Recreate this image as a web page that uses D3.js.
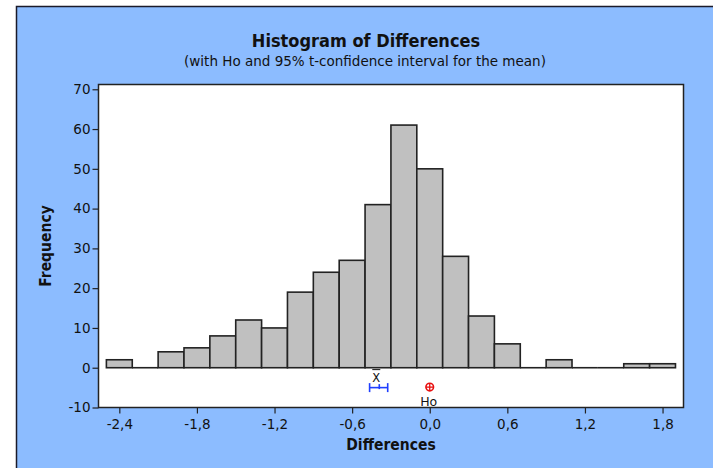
<!DOCTYPE html>
<html>
<head>
<meta charset="UTF-8">
<script src="https://d3js.org/d3.v7.min.js"></script>
<style>
  body { margin: 0; background: #fff; }
  text { font-family: "DejaVu Sans", sans-serif; fill: #111; }
  .cond { font-family: "DejaVu Sans Condensed", "DejaVu Sans", sans-serif; }
</style>
</head>
<body>
<div id="chart"></div>
<script>
var width = 713, height = 468;

// histogram bins (left edges) and counts
var binStart = -2.5, binWidth = 0.2;
var counts = [2, 0, 4, 5, 8, 12, 10, 19, 24, 27, 41, 61, 50, 28, 13, 6, 0, 2, 0, 0, 1, 1];
var xTicks = [-2.4, -1.8, -1.2, -0.6, 0.0, 0.6, 1.2, 1.8];
var yTicks = [-10, 0, 10, 20, 30, 40, 50, 60, 70];
// mean and 95% t-CI, hypothesised value
var mean = -0.39, ciLow = -0.465, ciHigh = -0.325, ho = 0.0, markY = -5;

var bins = counts.map(function(c, i) {
    return { x0: binStart + i * binWidth, x1: binStart + (i + 1) * binWidth, n: c };
});

var plot = { left: 98.5, right: 683.5, top: 84.5, bottom: 407.5 };

var svg = d3.select("#chart").append("svg")
    .attr("width", width).attr("height", height);

// blue frame
svg.append("rect").attr("x", 16.5).attr("y", 6.5)
    .attr("width", width).attr("height", height)
    .attr("fill", "#8cbcff").attr("stroke", "#1a1a2a").attr("stroke-width", 1.5);

var xscale = d3.scaleLinear().domain([-2.561, 1.962]).range([plot.left, plot.right]);
var yscale = d3.scaleLinear().domain([-10, 71.2]).range([plot.bottom, plot.top]);

svg.append("rect")
    .attr("x", plot.left).attr("y", plot.top)
    .attr("width", plot.right - plot.left).attr("height", plot.bottom - plot.top)
    .attr("fill", "#fff").attr("stroke", "#222").attr("stroke-width", 1.5);

// bars (empty bins show as a line at zero)
var gb = svg.append("g");
gb.selectAll("rect").data(bins.filter(d => d.n > 0)).enter().append("rect")
    .attr("x", d => xscale(d.x0))
    .attr("y", d => yscale(d.n))
    .attr("width", d => xscale(d.x1) - xscale(d.x0))
    .attr("height", d => yscale(0) - yscale(d.n))
    .attr("fill", "#c0c0c0").attr("stroke", "#222").attr("stroke-width", 1.6);
gb.selectAll("line").data(bins.filter(d => d.n === 0)).enter().append("line")
    .attr("x1", d => xscale(d.x0)).attr("x2", d => xscale(d.x1))
    .attr("y1", yscale(0)).attr("y2", yscale(0))
    .attr("stroke", "#222").attr("stroke-width", 1.6);

// axes
var xaxis = d3.axisBottom(xscale).tickValues(xTicks).tickSize(6).tickSizeOuter(0)
    .tickFormat(d => d3.format(".1f")(d).replace(".", ",").replace("−", "-"));
var yaxis = d3.axisLeft(yscale).tickValues(yTicks).tickSize(6).tickSizeOuter(0)
    .tickFormat(d => String(d));

var gx = svg.append("g").attr("transform", "translate(0," + plot.bottom + ")").call(xaxis);
var gy = svg.append("g").attr("transform", "translate(" + plot.left + ",0)").call(yaxis);
[gx, gy].forEach(function(g) {
    g.select(".domain").remove();
    g.selectAll("line").attr("stroke", "#222").attr("stroke-width", 1.2);
    g.selectAll("text").style("font-size", "13.5px").attr("fill", "#111")
        .style("font-family", "'DejaVu Sans', sans-serif");
});
gx.selectAll("text").attr("dy", "0.95em");
gy.selectAll("text").attr("x", -8);

// CI for the mean
var gci = svg.append("g").attr("stroke", "#1f3fff").attr("stroke-width", 1.6);
gci.append("line").attr("x1", xscale(ciLow)).attr("x2", xscale(ciHigh))
    .attr("y1", yscale(markY)).attr("y2", yscale(markY));
[ciLow, ciHigh].forEach(function(v) {
    gci.append("line").attr("x1", xscale(v)).attr("x2", xscale(v))
        .attr("y1", yscale(markY) - 4.5).attr("y2", yscale(markY) + 4.5);
});
gci.append("line").attr("x1", xscale(mean)).attr("x2", xscale(mean))
    .attr("y1", yscale(markY) - 3.5).attr("y2", yscale(markY) + 1.5);

svg.append("text").attr("x", xscale(mean) - 3).attr("y", yscale(markY) - 6)
    .attr("text-anchor", "middle").style("font-size", "11.5px").text("X");
svg.append("line").attr("x1", xscale(mean) - 7).attr("x2", xscale(mean) + 1)
    .attr("y1", yscale(markY) - 18).attr("y2", yscale(markY) - 18)
    .attr("stroke", "#111").attr("stroke-width", 1);

// Ho marker
var hx = xscale(ho), hy = yscale(markY) - 0.5;
svg.append("circle").attr("cx", hx).attr("cy", hy).attr("r", 3.8)
    .attr("fill", "none").attr("stroke", "#e81010").attr("stroke-width", 1.6);
svg.append("line").attr("x1", hx - 4).attr("x2", hx + 4).attr("y1", hy).attr("y2", hy)
    .attr("stroke", "#e81010").attr("stroke-width", 1.3);
svg.append("line").attr("x1", hx).attr("x2", hx).attr("y1", hy - 4).attr("y2", hy + 4)
    .attr("stroke", "#e81010").attr("stroke-width", 1.3);
svg.append("text").attr("x", hx - 1).attr("y", yscale(markY) + 18)
    .attr("text-anchor", "middle").style("font-size", "12.5px").text("Ho");

// titles
svg.append("text").attr("class", "cond").attr("x", 366).attr("y", 47).attr("text-anchor", "middle")
    .style("font-size", "18px").style("font-weight", "bold").text("Histogram of Differences");
svg.append("text").attr("x", 365).attr("y", 66).attr("text-anchor", "middle")
    .style("font-size", "13.5px").text("(with Ho and 95% t-confidence interval for the mean)");
svg.append("text").attr("class", "cond").attr("x", (plot.left + plot.right) / 2).attr("y", 450).attr("text-anchor", "middle")
    .style("font-size", "15.5px").style("font-weight", "bold").text("Differences");
svg.append("text").attr("class", "cond").attr("transform", "translate(51," + ((plot.top + plot.bottom) / 2) + ") rotate(-90)")
    .attr("text-anchor", "middle")
    .style("font-size", "15.5px").style("font-weight", "bold").text("Frequency");
</script>
</body>
</html>
